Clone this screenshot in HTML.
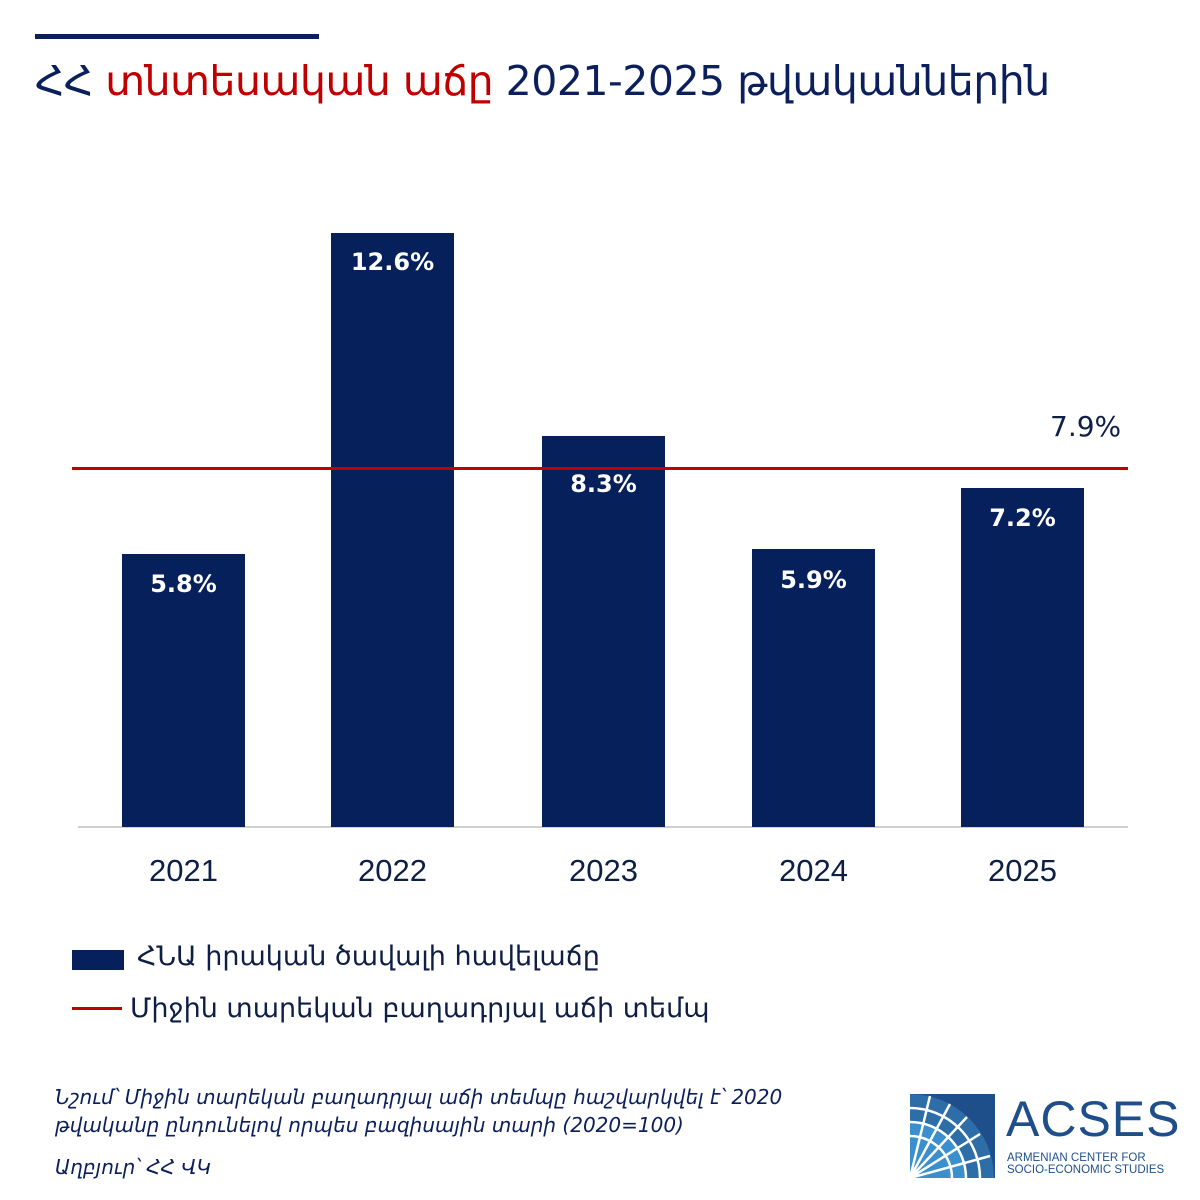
<!DOCTYPE html>
<html><head><meta charset="utf-8"><style>
body{margin:0;width:1200px;height:1200px;background:#fff;position:relative;overflow:hidden;font-family:"DejaVu Sans","Liberation Sans",sans-serif;color:#0b1f5c}
.a{position:absolute}
.bar{position:absolute;background:#06205c;bottom:373px;width:123px}
.bl{position:absolute;color:#fff;font-size:24px;width:123px;text-align:center;font-weight:bold}
.yr{position:absolute;top:853px;font-size:31px;width:123px;text-align:center;color:#0e1e45;font-family:"Liberation Sans","DejaVu Sans",sans-serif}
</style></head><body>
<div class="a" style="left:35px;top:34px;width:284px;height:5px;background:#0b1f5c"></div>
<div class="a" style="left:35px;top:57px;font-size:41px;white-space:nowrap;letter-spacing:-0.5px">ՀՀ <span style="color:#c00000">տնտեսական աճը</span> 2021-2025 թվականներին</div>

<div class="a" style="left:78px;top:826px;width:1050px;height:2px;background:#d0d0d0"></div>

<div class="bar" style="left:122px;top:554px"></div>
<div class="bar" style="left:331px;top:233px"></div>
<div class="bar" style="left:542px;top:436px"></div>
<div class="bar" style="left:752px;top:549px"></div>
<div class="bar" style="left:961px;top:488px"></div>

<div class="a" style="left:72px;top:467px;width:1056px;height:3px;background:#c00000"></div>

<div class="bl" style="left:122px;top:570px">5.8%</div>
<div class="bl" style="left:331px;top:248px">12.6%</div>
<div class="bl" style="left:542px;top:470px">8.3%</div>
<div class="bl" style="left:752px;top:566px">5.9%</div>
<div class="bl" style="left:961px;top:504px">7.2%</div>
<div class="a" style="left:1050px;top:410px;font-size:28px;color:#0e1e45">7.9%</div>

<div class="yr" style="left:122px">2021</div>
<div class="yr" style="left:331px">2022</div>
<div class="yr" style="left:542px">2023</div>
<div class="yr" style="left:752px">2024</div>
<div class="yr" style="left:961px">2025</div>

<div class="a" style="left:72px;top:950px;width:52px;height:20px;background:#06205c"></div>
<div class="a" style="left:137px;top:941px;font-size:27px;color:#0e1e45">ՀՆԱ իրական ծավալի հավելաճը</div>
<div class="a" style="left:72px;top:1007px;width:50px;height:3px;background:#c00000"></div>
<div class="a" style="left:130px;top:993px;font-size:27px;color:#0e1e45">Միջին տարեկան բաղադրյալ աճի տեմպ</div>

<div class="a" style="left:55px;top:1083px;font-size:20px;font-style:italic;line-height:28px;color:#0b1f5c">Նշում՝ Միջին տարեկան բաղադրյալ աճի տեմպը հաշվարկվել է՝ 2020<br>թվականը ընդունելով որպես բազիսային տարի (2020=100)</div>
<div class="a" style="left:55px;top:1155px;font-size:20px;font-style:italic;color:#0b1f5c">Աղբյուր՝ ՀՀ ՎԿ</div>

<svg class="a" style="left:910px;top:1094px" width="85" height="84" viewBox="0 0 85 84">
<rect width="85" height="84" fill="#1f4f8a"/>
<path d="M0 84V0A84 84 0 0 1 84 84Z" fill="#2d6ea8"/>
<path d="M0 84V28A56 56 0 0 1 56 84Z" fill="#3b8fcc"/>
<g fill="none" stroke="#fff" stroke-width="2.5">
<path d="M0 14A70 70 0 0 1 70 84"/><path d="M0 28A56 56 0 0 1 56 84"/><path d="M0 42A42 42 0 0 1 42 84"/>
<path d="M0 84L20 2M0 84L40 10M0 84L57 23M0 84L70 40M0 84L80 62"/>
</g></svg>
<div class="a" style="left:1006px;top:1090px;font-size:50px;color:#1f4f8a;font-family:'Liberation Sans',sans-serif;letter-spacing:1px">ACSES</div>
<div class="a" style="left:1007px;top:1152px;font-size:11.5px;line-height:12px;color:#1f4f8a;font-family:'Liberation Sans',sans-serif">ARMENIAN CENTER FOR<br>SOCIO-ECONOMIC STUDIES</div>
</body></html>
